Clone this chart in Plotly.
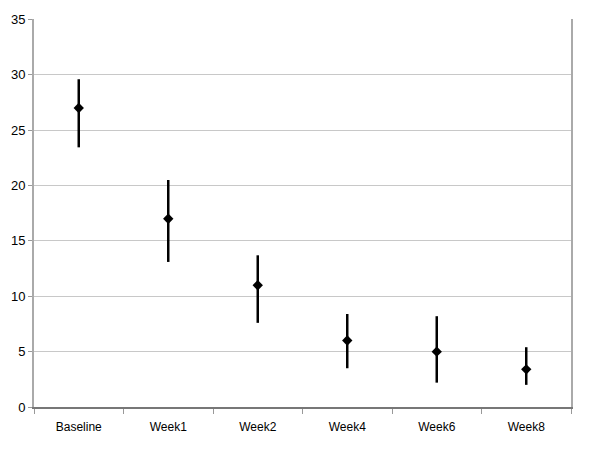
import plotly.graph_objects as go

categories = ["Baseline", "Week1", "Week2", "Week4", "Week6", "Week8"]
means = [27.0, 17.0, 11.0, 6.0, 5.0, 3.4]
upper = [29.6, 20.5, 13.7, 8.4, 8.2, 5.4]
lower = [23.45, 13.1, 7.6, 3.5, 2.2, 2.0]

err_plus = [u - m for u, m in zip(upper, means)]
err_minus = [m - l for m, l in zip(means, lower)]

fig = go.Figure()
fig.add_trace(go.Scatter(
    x=categories, y=means, mode="markers",
    marker=dict(symbol="diamond", size=8, color="black"),
    error_y=dict(type="data", symmetric=False, array=err_plus, arrayminus=err_minus,
                 width=0, thickness=2.5, color="black"),
    showlegend=False,
))

fig.update_layout(
    width=592, height=454,
    margin=dict(l=26, r=29, t=11, b=55),
    paper_bgcolor="white", plot_bgcolor="white",
    font=dict(family="Liberation Sans, Arial, sans-serif", size=12, color="black"),
    xaxis=dict(
        type="category", tickson="boundaries", ticks="outside", ticklen=5,
        tickcolor="#999999", showline=True, linecolor="#777777", linewidth=1.5,
        showgrid=False, range=[-0.5, 5.5], tickfont=dict(size=12),
        ticklabelstandoff=8, automargin=False,
    ),
    yaxis=dict(
        range=[0, 35.04], tickvals=[0, 5, 10, 15, 20, 25, 30, 35],
        ticks="outside", ticklen=4, tickcolor="#999999",
        showline=True, linecolor="#aaaaaa", linewidth=2, mirror=True,
        showgrid=True, gridcolor="#c8c8c8", gridwidth=1, zeroline=False,
        tickfont=dict(size=13), automargin=False,
    ),
)

fig.write_html("out.html")
